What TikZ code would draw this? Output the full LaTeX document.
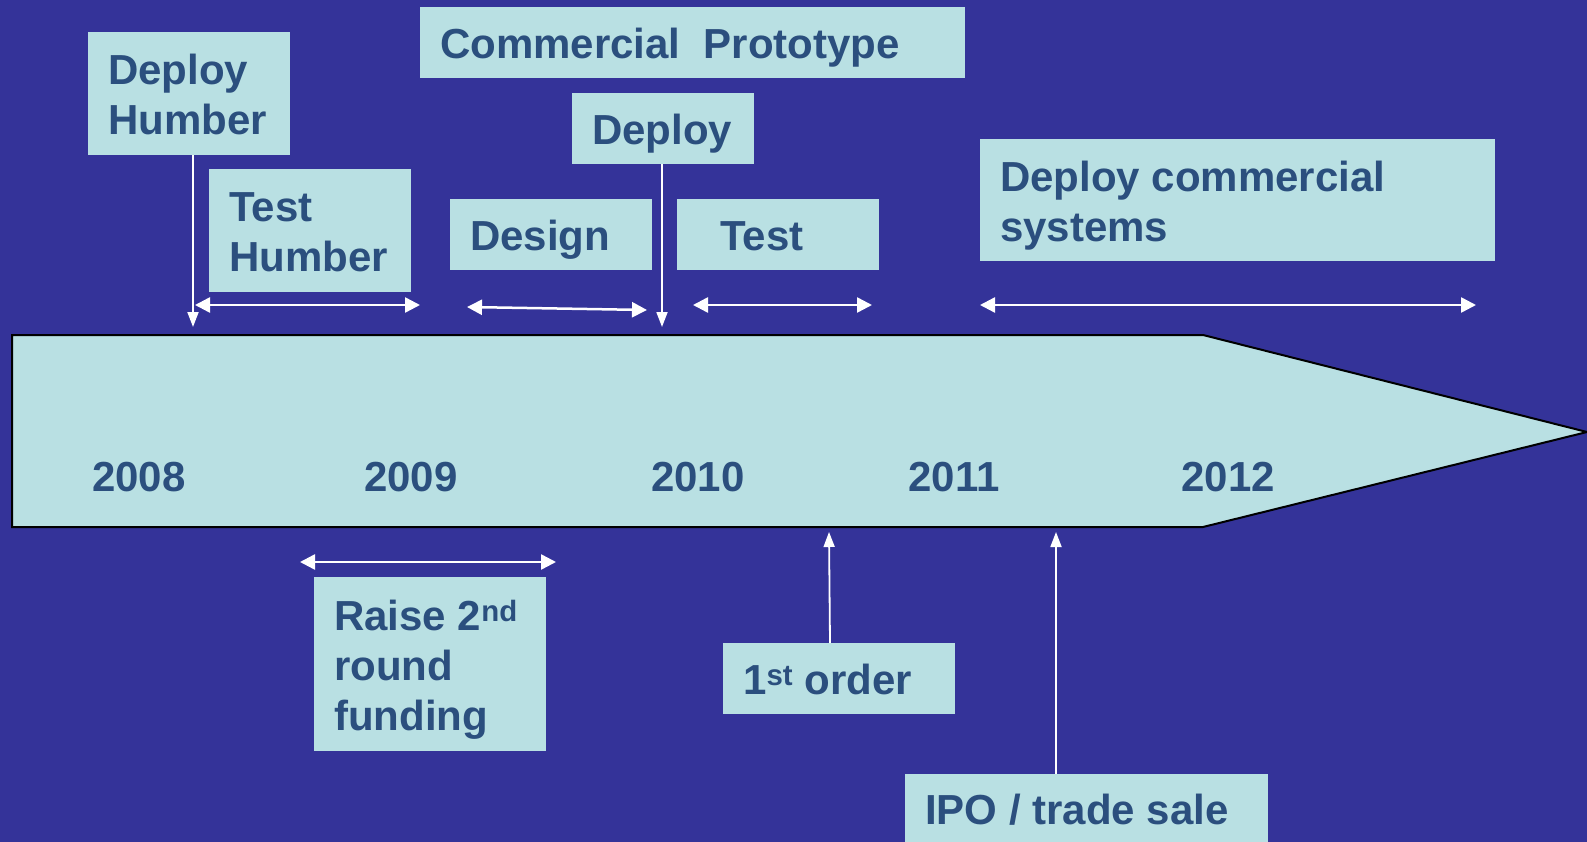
\documentclass[tikz,border=0pt]{standalone}
\usepackage{fontspec}
\setmainfont{Liberation Sans}
\usepackage{tikz}
\usetikzlibrary{arrows.meta}

\definecolor{slidebg}{RGB}{52,51,153}
\definecolor{boxfill}{RGB}{185,224,227}
\definecolor{boxtext}{RGB}{43,79,126}

\begin{document}
\begin{tikzpicture}[x=1pt, y=-1pt]

\fill[slidebg] (0,0) rectangle (1587,842);
\useasboundingbox (0,0) rectangle (1587,842);

% the time line
\draw[fill=boxfill, line width=2pt] (12,335) -- (1203,335) -- (1587,432) -- (1203,527) -- (12,527) -- cycle;

\begin{scope}[box/.style = {rectangle, fill=boxfill, text=boxtext, anchor=north west, align=flush left,
                            inner xsep=20pt, inner ysep=0pt,
                            execute at begin node=\rule{0pt}{41pt},
                            execute at end node=\rule[-9pt]{0pt}{0pt},
                            font=\fontsize{42}{50}\selectfont\bfseries},
              yr/.style = {text=boxtext, font=\fontsize{42}{50}\selectfont\bfseries}]
    \node[box, text width=162pt, minimum height=123pt] (dh) at (88,32) {Deploy\\Humber};
    \node[box, text width=162pt, minimum height=123pt] (th) at (209,169) {Test\\Humber};
    \node[box, text width=505pt, minimum height=71pt] (cp) at (420,7) {Commercial\ \ Prototype};
    \node[box, text width=142pt, minimum height=71pt] (dp) at (572,93) {Deploy};
    \node[box, text width=162pt, minimum height=71pt] (dz) at (450,199) {Design};
    \node[box, text width=162pt, minimum height=71pt] (ts) at (677,199) {\hspace*{23pt}Test};
    \node[box, text width=475pt, minimum height=122pt] (dc) at (980,139) {Deploy commercial\\systems};

    \node[box, text width=192pt, minimum height=174pt] (rf) at (314,577) {Raise 2\textsuperscript{nd}\\round\\funding};
    \node[box, text width=192pt, minimum height=71pt] (fo) at (723,643) {1\textsuperscript{st} order};
    \node[box, text width=323pt, minimum height=68pt] (ipo) at (905,774) {IPO / trade sale};

    \node[yr] (y08) at (139,477) {2008};
    \node[yr] (y09) at (411,477) {2009};
    \node[yr] (y10) at (698,477) {2010};
    \node[yr] (y11) at (954,477) {2011};
    \node[yr] (y12) at (1228,477) {2012};
\end{scope}

% spans and milestones
\coordinate (thA) at (195,305);  \coordinate (thB) at (420,305);
\coordinate (dzA) at (467,307);  \coordinate (dzB) at (647,310);
\coordinate (tsA) at (693,305);  \coordinate (tsB) at (872,305);
\coordinate (dcA) at (980,305);  \coordinate (dcB) at (1476,305);
\coordinate (rfA) at (300,562);  \coordinate (rfB) at (556,562);
\coordinate (dhTip) at (193,327);
\coordinate (dpTip) at (662,327);
\coordinate (foTip) at (829,532);
\coordinate (ipoTip) at (1056,532);

\begin{scope}[dbl/.style = {{Triangle[length=15pt,width=15pt]}-{Triangle[length=15pt,width=15pt]}, white, line width=2.5pt},
              pin/.style = {-{Triangle[length=15pt,width=11pt]}, white, line width=1.8pt}]
    \draw[dbl] (thA) -- (thB);
    \draw[dbl] (dzA) -- (dzB);
    \draw[dbl] (tsA) -- (tsB);
    \draw[dbl] (dcA) -- (dcB);
    \draw[dbl] (rfA) -- (rfB);

    \draw[pin] (dh.south -| dhTip) -- (dhTip);
    \draw[pin] (dp.south -| dpTip) -- (dpTip);
    \draw[pin] (fo.north -| 830,0) -- (foTip);
    \draw[pin] (ipo.north -| ipoTip) -- (ipoTip);
\end{scope}

\end{tikzpicture}
\end{document}
